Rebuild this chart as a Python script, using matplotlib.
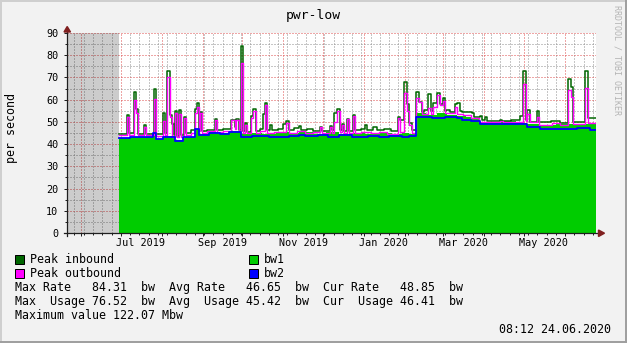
import datetime as dt
import pandas as pd
import matplotlib
matplotlib.use('Agg')
import matplotlib.pyplot as plt
import matplotlib.dates as mdates
from matplotlib.patches import Rectangle, Polygon
from matplotlib.lines import Line2D
from matplotlib.ticker import MultipleLocator, NullFormatter

W, H = 627, 343
MONO = 'DejaVu Sans Mono'

graph_start = dt.datetime(2019, 5, 21, 8, 12)
graph_end = dt.datetime(2020, 6, 24, 8, 12)
data_start = dt.datetime(2019, 6, 30)

# step series: day offset from data_start where the value changes, and the new value
rate_days = [0, 8, 25, 28, 33, 42, 48, 57, 60, 68, 76, 83, 92, 100, 108, 118, 128, 136,
             146, 156, 166, 176, 186, 196, 206, 214, 219, 224.5, 232, 240, 248, 255,
             262, 266, 272.6, 290, 300, 308, 318, 330, 346, 356]
rate_vals = [42.8, 43.2, 45.4, 42.5, 43.6, 41.8, 43.3, 46.8, 44.6, 45.6, 45.1, 45.8, 44.4,
             45.1, 44.7, 45.3, 44.8, 45.6, 44.7, 45.3, 44.6, 45.1, 44.4, 44.9, 44.5, 45.0,
             44.6, 53.8, 53.2, 54.1, 53.3, 52.8, 52.3, 51.7, 49.8, 50.2, 49.6, 49.0, 48.5,
             48.9, 49.2, 48.85]

usage_days = [0, 8, 25, 28, 33, 42, 48, 57, 60, 68, 76, 83, 92, 100, 113, 128, 136, 140,
              150, 158, 166, 176, 188, 196, 204, 214, 219, 224.5, 236, 246, 255, 259, 266,
              272.6, 308, 318, 346, 356]
usage_vals = [42.6, 43.0, 45.2, 42.3, 43.4, 41.6, 43.0, 46.6, 44.0, 44.9, 44.5, 45.3, 43.2,
              43.5, 43.3, 43.8, 44.2, 43.5, 44.0, 43.4, 43.9, 43.3, 43.7, 43.2, 43.6, 43.3,
              43.8, 52.3, 51.8, 52.4, 51.6, 51.0, 50.4, 48.9, 47.8, 46.7, 47.2, 46.41]

peak_in_days = [0, 5.5, 7.5, 11, 12.5, 14, 18.5, 20, 26, 27.5, 32.9, 34.4, 36, 38.5, 40,
                41.5, 42, 43.5, 45, 46.5, 48.8, 50.3, 54, 57.5, 59, 60.5, 61, 62.5, 66, 72,
                73.5, 78, 84, 87, 88, 90.5, 92, 93.5, 95, 96.5, 99.5, 101, 103, 106, 108.5,
                110, 111.5, 114, 115.5, 120, 123.5, 126, 128, 132, 136, 137.5, 142, 146,
                151.5, 153, 159, 160.5, 162, 164.5, 166.7, 168, 169.5, 172, 173.5, 176.5,
                178, 183, 185.5, 187, 191.5, 194.5, 200, 205, 210.6, 212.5, 215, 217.4, 219,
                221, 224.5, 226.5, 228.7, 230, 233, 235.5, 237, 240, 242.3, 244.5, 246, 247,
                250, 253.5, 255, 257.5, 259, 266.6, 268, 272.6, 274, 276.4, 278, 287.7,
                289.3, 296, 302.8, 305, 307.4, 308, 310.4, 315.7, 317.2, 326, 333, 339,
                341.4, 343, 348, 352, 354.2]
peak_in_vals = [44.6, 53.0, 44.8, 63.5, 56.0, 44.6, 48.5, 44.6, 64.6, 44.4, 53.9, 44.8, 72.9,
                53.0, 49.0, 44.0, 55.0, 43.8, 55.4, 44.2, 52.0, 45.0, 46.2, 55.6, 58.6, 47.0,
                54.6, 46.0, 46.5, 51.5, 46.2, 46.8, 51.0, 47.5, 51.2, 46.5, 84.31, 45.8, 49.5,
                45.6, 52.5, 55.6, 46.0, 46.8, 53.5, 58.6, 46.4, 48.6, 46.2, 47.0, 49.0, 50.4,
                46.5, 47.2, 48.0, 46.2, 47.0, 46.0, 47.8, 46.0, 48.0, 46.3, 53.9, 55.6, 46.5,
                49.0, 46.0, 51.2, 46.0, 53.0, 46.4, 47.0, 48.6, 46.5, 47.8, 46.2, 46.8, 46.0,
                52.0, 50.8, 68.1, 58.0, 49.5, 46.2, 63.6, 59.1, 54.6, 55.4, 62.4, 55.0, 58.6,
                62.9, 58.0, 60.6, 55.0, 55.4, 54.6, 58.0, 58.6, 55.0, 54.6, 53.9, 52.2, 52.6,
                50.8, 52.0, 50.6, 50.8, 50.4, 50.8, 52.6, 73.1, 51.0, 55.4, 50.0, 55.0, 49.8,
                50.2, 49.6, 69.3, 65.9, 50.0, 49.8, 73.1, 51.6]

peak_out_days = [0, 5.5, 7.5, 11, 12.5, 14, 18.5, 20, 26, 27.5, 32.9, 34.4, 36, 38.5, 40,
                 42, 43.5, 45, 46.5, 48.8, 50.3, 54, 57.5, 59, 60.5, 61, 62.5, 66, 72, 73.5,
                 78, 84, 87, 88, 90.5, 92, 93.5, 95, 96.5, 99.5, 101, 103, 106, 110, 111.5,
                 117, 126, 128, 134, 140, 146, 151.5, 153, 159, 160.5, 162, 164.5, 166.7,
                 168, 169.5, 172, 173.5, 176.5, 178, 183, 190, 196, 202, 210.6, 212, 215,
                 217.4, 219, 221, 224.5, 226.5, 228.7, 233, 235.5, 237, 240, 242.3, 244.5,
                 246, 253.5, 255, 260, 266, 272, 288, 290, 305, 307.4, 308, 310.4, 315.7,
                 317.2, 327, 333, 339, 341.4, 343, 352, 354.2]
peak_out_vals = [44.0, 52.0, 44.2, 60.0, 54.0, 44.0, 47.6, 44.0, 60.3, 43.6, 50.5, 44.3,
                 70.0, 52.0, 43.2, 54.0, 43.0, 53.6, 43.4, 51.6, 44.2, 45.0, 54.0, 56.5,
                 46.0, 54.0, 45.2, 45.8, 50.8, 45.5, 46.0, 50.8, 47.0, 50.8, 45.8, 76.52,
                 45.0, 48.6, 44.8, 51.6, 54.8, 45.2, 46.0, 57.6, 45.0, 45.6, 49.3, 45.0,
                 45.8, 44.8, 45.4, 47.5, 44.8, 47.8, 45.2, 50.1, 54.8, 45.3, 48.6, 45.0,
                 51.2, 44.8, 52.6, 45.0, 45.6, 44.8, 45.3, 44.6, 51.6, 45.6, 62.9, 55.0,
                 48.6, 45.2, 60.6, 59.0, 53.4, 56.1, 53.6, 56.5, 62.1, 57.6, 59.6, 53.8,
                 56.5, 53.4, 53.0, 51.6, 50.0, 50.4, 49.8, 67.1, 50.2, 53.6, 49.8, 52.0,
                 48.8, 49.4, 48.8, 64.4, 61.4, 49.2, 65.1, 49.6]

month_labels = ['Jul 2019', 'Sep 2019', 'Nov 2019', 'Jan 2020', 'Mar 2020', 'May 2020']
label_dates = [dt.datetime(2019, 7, 16), dt.datetime(2019, 9, 16), dt.datetime(2019, 11, 16),
               dt.datetime(2020, 1, 16), dt.datetime(2020, 3, 16), dt.datetime(2020, 5, 16)]

legend_rows = [
    'Max Rate   84.31  bw  Avg Rate   46.65  bw  Cur Rate   48.85  bw',
    'Max  Usage 76.52  bw  Avg  Usage 45.42  bw  Cur  Usage 46.41  bw',
    'Maximum value 122.07 Mbw',
]

end_day = (graph_end - data_start) / dt.timedelta(days=1)


def steps(days, vals):
    t = pd.Timestamp(data_start) + pd.to_timedelta(list(days) + [end_day], unit='D')
    return t.to_numpy(), list(vals) + [vals[-1]]


def fx(px):
    return px / W


def fy(py):
    return 1 - py / H


fig = plt.figure(figsize=(W / 100, H / 100), dpi=100, facecolor='#F2F2F2')
ax = fig.add_axes([fx(67), fy(233), 529 / W, 200 / H])
ax.set_facecolor('white')
ax.set_axisbelow(True)

ax.set_xlim(graph_start, graph_end)
ax.set_ylim(0, 90)

# no data before the first sample
ax.axvspan(graph_start, data_start, color='black', alpha=0.2, lw=0, zorder=1)

t, v = steps(rate_days, rate_vals)
ax.fill_between(t, 0, v, step='post', color='#00CC00', lw=0, zorder=2)
t, v = steps(peak_in_days, peak_in_vals)
ax.plot(t, v, drawstyle='steps-post', color='#006600', lw=1.1, zorder=3)
t, v = steps(peak_out_days, peak_out_vals)
ax.plot(t, v, drawstyle='steps-post', color='#FF00FF', lw=1.0, zorder=4)
t, v = steps(usage_days, usage_vals)
ax.plot(t, v, drawstyle='steps-post', color='#0000FF', lw=1.3, zorder=5)

# grid and ticks
ax.xaxis.set_major_locator(mdates.MonthLocator())
ax.xaxis.set_minor_locator(mdates.WeekdayLocator(byweekday=mdates.MO))
ax.xaxis.set_major_formatter(NullFormatter())
ax.yaxis.set_major_locator(MultipleLocator(10))
ax.yaxis.set_minor_locator(MultipleLocator(5))
ax.grid(which='major', color=(0.87, 0.31, 0.31, 0.5), linestyle=(0, (1, 2)), lw=0.72)
ax.grid(which='minor', color=(0.56, 0.56, 0.56, 0.45), linestyle=(0, (1, 2)), lw=0.72)
ax.tick_params(which='major', direction='out', length=2.2, width=0.72, color='#1F1F1F',
               labelsize=7.3, pad=4)
ax.tick_params(which='minor', direction='out', length=1.4, width=0.72, color='#1F1F1F')
for lab in ax.get_yticklabels():
    lab.set_family(MONO)
for s in ax.spines.values():
    s.set_visible(False)

for name, d in zip(month_labels, label_dates):
    ax.text(d, -13 / 200, name, transform=ax.get_xaxis_transform(), ha='center',
            va='baseline', fontsize=7.3, family=MONO)


def ax_x(px):
    return (px - 67) / 529


def ax_y(py):
    return (233 - py) / 200


# axes with arrow heads
axis_col = '#1F1F1F'
arrow_col = '#801F1F'
ax.add_line(Line2D([ax_x(67), ax_x(67)], [ax_y(236), ax_y(31)], transform=ax.transAxes,
                   color=axis_col, lw=0.9, clip_on=False, zorder=6))
ax.add_line(Line2D([ax_x(64), ax_x(599)], [ax_y(233), ax_y(233)], transform=ax.transAxes,
                   color=axis_col, lw=0.9, clip_on=False, zorder=6))
ax.add_patch(Polygon([[ax_x(64), ax_y(32)], [ax_x(70.5), ax_y(32)], [ax_x(67.2), ax_y(26.5)]],
                     closed=True, transform=ax.transAxes, color=arrow_col, clip_on=False,
                     zorder=7))
ax.add_patch(Polygon([[ax_x(598.5), ax_y(230)], [ax_x(598.5), ax_y(236.5)], [ax_x(604.5), ax_y(233.2)]],
                     closed=True, transform=ax.transAxes, color=arrow_col, clip_on=False,
                     zorder=7))

# title, unit, watermark
fig.text(fx(313.5), fy(18.5), 'pwr-low', ha='center', va='baseline', fontsize=9.4, family=MONO)
fig.text(fx(11.5), fy(128), 'per second', rotation=90, ha='center', va='center',
         fontsize=8.4, family=MONO)
fig.text(fx(617), fy(60), 'RRDTOOL / TOBI OETIKER', rotation=270, ha='center', va='center',
         fontsize=6.0, family=MONO, color='#B4B4B4')

# legend
boxes = [(15, 255, '#006600', 'Peak inbound'), (15, 269, '#FF00FF', 'Peak outbound'),
         (249, 255, '#00CC00', 'bw1'), (249, 269, '#0000FF', 'bw2')]
for bx, by, col, name in boxes:
    fig.add_artist(Rectangle((fx(bx), fy(by + 8.5)), 8.5 / W, 8.5 / H, transform=fig.transFigure,
                             facecolor=col, edgecolor='black', lw=0.72))
    fig.text(fx(bx + 15), fy(by + 8.3), name, ha='left', va='baseline', fontsize=8.4, family=MONO)

for i, row in enumerate(legend_rows):
    fig.text(fx(15), fy(291 + 14 * i), row, ha='left', va='baseline', fontsize=8.4, family=MONO)
fig.text(fx(611), fy(333), '08:12 24.06.2020', ha='right', va='baseline', fontsize=8.4, family=MONO)

# image border shading
fig.add_artist(Line2D([0, 1], [fy(0.5), fy(0.5)], transform=fig.transFigure, color='#CFCFCF', lw=1.4))
fig.add_artist(Line2D([fx(0.5), fx(0.5)], [0, 1], transform=fig.transFigure, color='#CFCFCF', lw=1.4))
fig.add_artist(Line2D([0, 1], [fy(342), fy(342)], transform=fig.transFigure, color='#9E9E9E', lw=1.4))
fig.add_artist(Line2D([fx(626), fx(626)], [0, 1], transform=fig.transFigure, color='#9E9E9E', lw=1.4))

fig.savefig('out.png', dpi=100, facecolor=fig.get_facecolor())
